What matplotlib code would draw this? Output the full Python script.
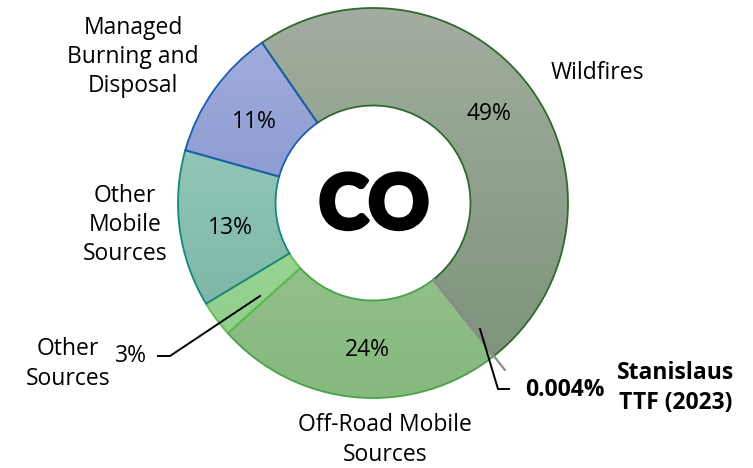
import matplotlib.pyplot as plt
import matplotlib.patheffects as pe
import numpy as np
from matplotlib.colors import LinearSegmentedColormap

# slices, clockwise from the Wildfires edge
names = ["Wildfires", "Stanislaus TTF (2023)", "Off-Road Mobile Sources",
         "Other Sources", "Other Mobile Sources", "Managed Burning and Disposal"]
shares = [49, 0.004, 24, 3, 13, 11]
pct_labels = ["49%", "0.004%", "24%", "3%", "13%", "11%"]

top_cols = ["#a2ad9f", "#a0a0a0", "#a9cda1", "#acdfa6", "#a3d3c6", "#a6b0e0"]
bot_cols = ["#7a9177", "#a0a0a0", "#86b97e", "#8ccc86", "#72ae9f", "#6f82c0"]
edge_cols = ["#2f6a2c", "#8c8c8c", "#4aa246", "#5cbb52", "#16877c", "#1b5cb0"]

W, H = 753, 468
cx, cy = 373, H - 203
R = 195
hole = 0.5

fig = plt.figure(figsize=(7.53, 4.68), dpi=100)
ax = fig.add_axes([0, 0, 1, 1])
ax.set_xlim(0, W)
ax.set_ylim(0, H)
ax.set_aspect("equal")
ax.axis("off")

wedges, _ = ax.pie(shares, center=(cx, cy), radius=R, startangle=124.7,
                   counterclock=False, frame=True,
                   wedgeprops=dict(width=R * (1 - hole), linewidth=1.3))

grad = np.linspace(0, 1, 256).reshape(-1, 1)
for w, t, b, e in zip(wedges, top_cols, bot_cols, edge_cols):
    w.set_facecolor("none")
    w.set_edgecolor(e)
    cmap = LinearSegmentedColormap.from_list("g", [t, b])
    im = ax.imshow(grad, cmap=cmap, extent=[cx - R, cx + R, cy - R, cy + R],
                   origin="upper", aspect="auto", zorder=0.5)
    im.set_clip_path(w)
    w.set_zorder(1)

# tiny TTF slice drawn as a grey spoke
ang = np.deg2rad(124.7 - 360 * shares[0] / sum(shares))
r0, r1 = R * hole, R * 1.09
ax.plot([cx + r0 * np.cos(ang), cx + r1 * np.cos(ang)],
        [cy + r0 * np.sin(ang), cy + r1 * np.sin(ang)],
        color="#8c8c8c", lw=1.6, zorder=2)

ax.set_xlim(0, W)
ax.set_ylim(0, H)

fnt = "Open Sans"
fs = 16.5
ax.text(cx + 1, cy - 4, "CO", ha="center", va="center", fontsize=54,
        fontweight="black", family="Lato", zorder=3,
        path_effects=[pe.withStroke(linewidth=3, foreground="black")])

ax.text(489, H - 114, pct_labels[0], ha="center", va="center", fontsize=fs, family=fnt)
ax.text(367, H - 350, pct_labels[2], ha="center", va="center", fontsize=fs, family=fnt)
ax.text(230, H - 228, pct_labels[4], ha="center", va="center", fontsize=fs, family=fnt)
ax.text(254, H - 122, pct_labels[5], ha="center", va="center", fontsize=fs, family=fnt)
ax.text(131, H - 356, pct_labels[3], ha="center", va="center", fontsize=fs, family=fnt)

ax.text(597, H - 73, names[0], ha="center", va="center", fontsize=fs, family=fnt)
ax.text(133, H - 57, "Managed\nBurning and\nDisposal", ha="center", va="center",
        fontsize=fs, family=fnt, linespacing=1.3)
ax.text(125, H - 225, "Other\nMobile\nSources", ha="center", va="center",
        fontsize=fs, family=fnt, linespacing=1.3)
ax.text(68, H - 364, "Other\nSources", ha="center", va="center",
        fontsize=fs, family=fnt, linespacing=1.3)
ax.text(385, H - 440, "Off-Road Mobile\nSources", ha="center", va="center",
        fontsize=fs, family=fnt, linespacing=1.3)

ax.text(565, H - 390, pct_labels[1], ha="center", va="center", fontsize=fs,
        family=fnt, fontweight="bold")
ax.text(676, H - 388, "Stanislaus\nTTF (2023)", ha="center", va="center",
        fontsize=fs, family=fnt, fontweight="bold", linespacing=1.3)

# leader lines
ax.plot([158, 170, 260], [H - 356, H - 356, H - 296], color="black", lw=1.4, zorder=3)
ax.plot([480, 498, 509], [H - 329, H - 389, H - 389], color="black", lw=1.4, zorder=3)

fig.savefig("out.png", dpi=100)
